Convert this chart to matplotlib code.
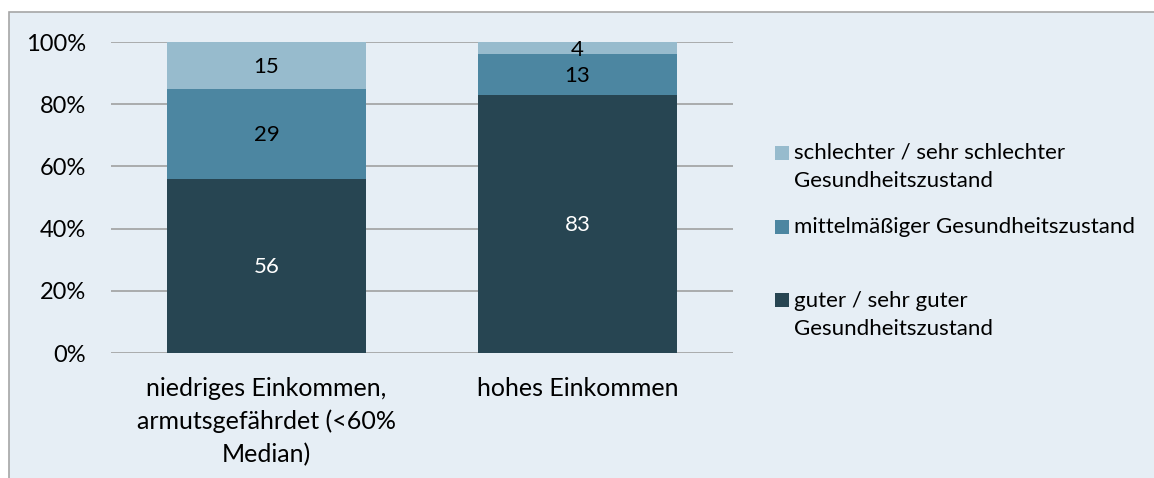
import numpy as np
import matplotlib.pyplot as plt
from matplotlib.patches import Rectangle

plt.rcParams['font.family'] = ['Lato', 'DejaVu Sans']

categories = ['niedriges Einkommen,\narmutsgefährdet (<60%\nMedian)', 'hohes Einkommen']
gut = [56, 83]
mittel = [29, 13]
schlecht = [15, 4]
labels = ['guter / sehr guter\nGesundheitszustand',
          'mittelmäßiger Gesundheitszustand',
          'schlechter / sehr schlechter\nGesundheitszustand']
colors = ['#274552', '#4c86a1', '#97bbcd']
bg = '#e6eef5'

W, H = 1154, 478
fig = plt.figure(figsize=(W/100, H/100), dpi=100)
fig.patch.set_facecolor('white')
# chart area box with grey left/top border (right/bottom cut off)
fig.patches.append(Rectangle((9/W, -0.5), 1.5, 1.5 - 12/H, transform=fig.transFigure,
                             facecolor=bg, edgecolor='#a6a6a6', linewidth=1.2, zorder=-5))

ax = fig.add_axes([111/W, 1 - 353/H, (733-111)/W, (353-42)/H])
ax.set_facecolor('none')

x = np.arange(len(categories))
w = 0.643
bottom = np.zeros(len(categories))
series = [gut, mittel, schlecht]
txtcol = ['white', 'black', 'black']
for vals, c, tc in zip(series, colors, txtcol):
    ax.bar(x, vals, w, bottom=bottom, color=c, zorder=3)
    for xi, v, b in zip(x, vals, bottom):
        ax.text(xi, b + v/2 - 0.5, str(v), ha='center', va='center', color=tc, fontsize=16, zorder=4)
    bottom += np.array(vals)

ax.set_xlim(-0.5, 1.5)
ax.set_ylim(0, 100)
ax.set_yticks(np.arange(0, 101, 20))
ax.set_yticklabels([f'{v}%' for v in range(0, 101, 20)])
ax.grid(axis='y', color='#a0a0a0', linewidth=1.2, zorder=1)
ax.set_xticks(x)
ax.set_xticklabels(categories, linespacing=1.5)
ax.tick_params(length=0, colors='black')
ax.tick_params(axis='y', pad=18, labelsize=17)
ax.tick_params(axis='x', pad=17, labelsize=18)
for s in ax.spines.values():
    s.set_visible(False)

# legend (Excel-style, uneven spacing)
leg = [(2, 153, 167), (1, 227, 227), (0, 300, 315)]
for i, ysq, ytx in leg:
    fig.patches.append(Rectangle((775/W, 1 - (ysq+7)/H), 14/W, 14/H, transform=fig.transFigure,
                                 facecolor=colors[i], edgecolor='none', zorder=5))
    fig.text(794/W, 1 - ytx/H, labels[i], ha='left', va='center', fontsize=16,
             linespacing=1.55, zorder=5)

fig.savefig('out.png', dpi=100, facecolor=fig.get_facecolor())
